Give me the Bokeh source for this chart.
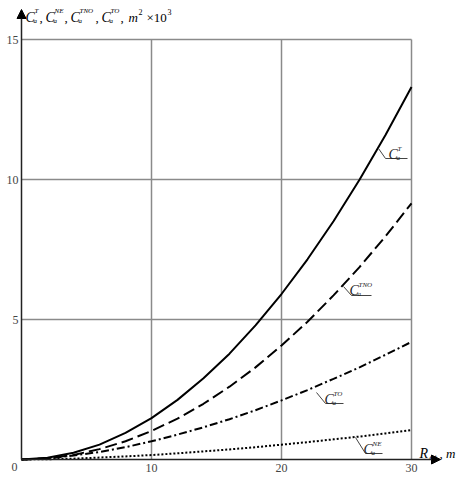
from bokeh.plotting import figure
from bokeh.models import Arrow, NormalHead, Range1d
from bokeh.core.properties import value
from bokeh.embed import file_html
from bokeh.resources import INLINE

# ---- data ----
r = [0, 2, 4, 6, 8, 10, 12, 14, 16, 18, 20, 22, 24, 26, 28, 30]
c_t = [0, 0.06, 0.24, 0.53, 0.95, 1.48, 2.13, 2.90, 3.78, 4.79, 5.91, 7.15, 8.51, 9.99, 11.59, 13.30]
c_tno = [0, 0.04, 0.16, 0.37, 0.65, 1.02, 1.46, 1.99, 2.60, 3.29, 4.07, 4.92, 5.86, 6.87, 7.97, 9.15]
c_to = [0, 0.04, 0.14, 0.27, 0.44, 0.65, 0.89, 1.15, 1.44, 1.76, 2.11, 2.48, 2.88, 3.29, 3.74, 4.20]
c_ne = [0, 0.01, 0.03, 0.07, 0.11, 0.16, 0.22, 0.29, 0.36, 0.44, 0.53, 0.62, 0.72, 0.82, 0.93, 1.05]
x_ticks = [10, 20, 30]
y_ticks = [5, 10, 15]
x_max, y_max = 30, 15

SERIF = value("Liberation Serif")

W, H = 464, 480
# page pixel -> data helpers
X0, SX = 21, 13.0
Y0, SY = 459, 28.0


def dx(px):
    return (px - X0) / SX


def dy(py):
    return (Y0 - py) / SY


p = figure(width=W, height=H, output_backend="svg", toolbar_location=None,
           x_axis_type=None, y_axis_type=None, min_border=0,
           x_range=Range1d(dx(0), dx(W)), y_range=Range1d(dy(H), dy(0)))
p.outline_line_color = None
p.grid.visible = False
p.background_fill_color = "white"

GRID = "#8a8a8a"
# grid lines
p.segment(x0=x_ticks, y0=[0] * len(x_ticks), x1=x_ticks, y1=[y_max] * len(x_ticks),
          line_color=GRID, line_width=1.5)
p.segment(x0=[0] * len(y_ticks), y0=y_ticks, x1=[x_max] * len(y_ticks), y1=y_ticks,
          line_color=GRID, line_width=1.5)

# axes with arrows
p.add_layout(Arrow(end=NormalHead(size=9, fill_color="black", line_color="black", line_width=1),
                   x_start=0, y_start=0, x_end=dx(440), y_end=0,
                   line_color="#222222", line_width=1.5))
p.add_layout(Arrow(end=NormalHead(size=9, fill_color="black", line_color="black", line_width=1),
                   x_start=0, y_start=0, x_end=0, y_end=dy(9),
                   line_color="#222222", line_width=1.5))

# curves
p.line(r, c_t, line_color="black", line_width=2)
p.line(r, c_tno, line_color="black", line_width=2, line_dash="12 5")
p.line(r, c_to, line_color="black", line_width=2, line_dash="8 3 2 3")
p.line(r, c_ne, line_color="black", line_width=2, line_dash="2 2")

# tick labels
TICK = "#444444"
p.text(x=x_ticks, y=[0] * len(x_ticks), text=[str(t) for t in x_ticks],
       text_font=SERIF, text_font_size="12px", text_color=TICK,
       text_align="center", text_baseline="top", y_offset=4)
p.text(x=[0] * len(y_ticks), y=y_ticks, text=[str(t) for t in y_ticks],
       text_font=SERIF, text_font_size="12px", text_color=TICK,
       text_align="right", text_baseline="middle", x_offset=-3)
p.text(x=[0], y=[0], text=["0"], text_font=SERIF, text_font_size="12px", text_color=TICK,
       text_align="center", text_baseline="top", x_offset=-7, y_offset=3)


def piece(px, py, txt, size, style="italic", color="black", align="left"):
    p.text(x=[dx(px)], y=[dy(py)], text=[txt], text_font=SERIF,
           text_font_size=f"{size}px", text_font_style=style, text_color=color,
           text_align=align, text_baseline="alphabetic")


def c_label(px, py, sup, lead):
    # C with superscript and subscript 'a', leader line and underline
    (lx0, ly0), (lx1, ly1), ux1 = lead
    p.line([dx(lx0), dx(lx1), dx(ux1)], [dy(ly0), dy(ly1), dy(ly1)],
           line_color="#444444", line_width=1)
    piece(px, py, "C", 14, color="#222222")
    piece(px + 9, py - 6, sup, 7, color="#222222")
    piece(px + 8, py + 3, "a", 7, color="#222222")


c_label(388, 154, "T", ((378, 148), (385, 158), 407))
c_label(349, 290, "TNO", ((343, 286), (351, 295), 371))
c_label(324, 399, "TO", ((316, 392), (325, 403), 343))
c_label(363, 449, "NE", ((355, 437), (365, 453), 382))

# y axis title
ty = 17
for x0, sup, comma in [(25, "T", 39), (45, "NE", 64), (70, "TNO", 95), (101, "TO", 120)]:
    piece(x0, ty, "C", 14)
    piece(x0 + 9, ty - 7, sup, 7)
    piece(x0 + 8, ty + 3, "a", 7)
    piece(comma, ty, ",", 13, style="normal")
piece(128, ty, "m", 13)
piece(138, ty - 6, "2", 8, style="normal")
piece(146, ty, "\u00d710", 13, style="normal")
piece(167, ty - 6, "3", 8, style="normal")

# x axis title
piece(419, 453, "R", 14)
piece(429, 456, "\u03b1t", 9)
piece(439, 453, ", m", 13)

open("out.html", "w").write(file_html(p, INLINE))
